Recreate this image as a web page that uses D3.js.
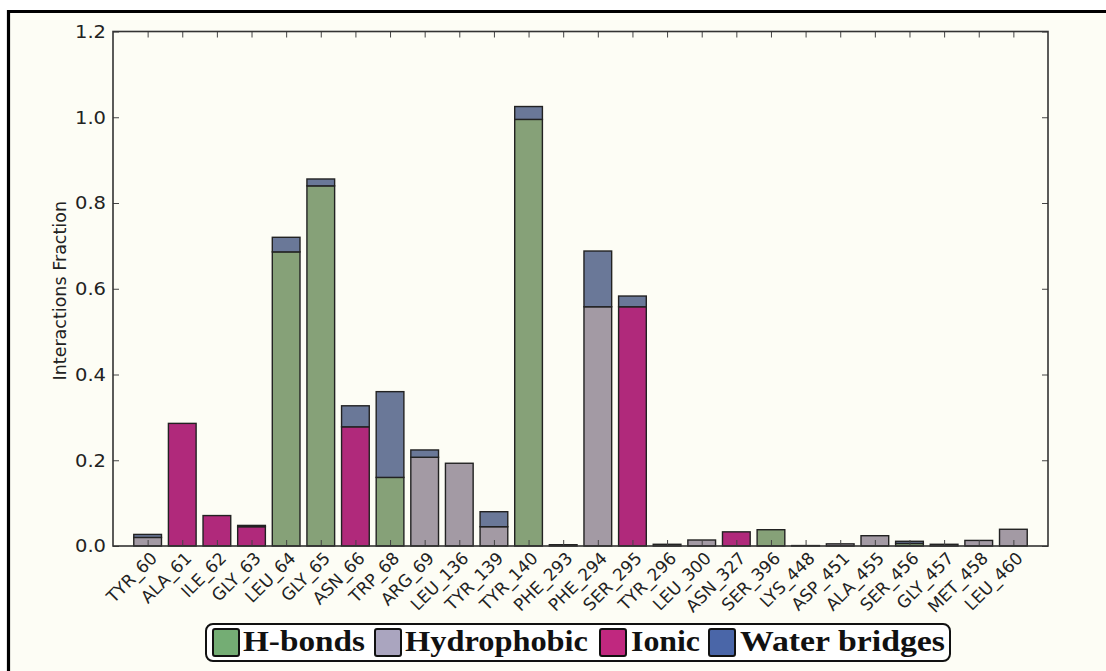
<!DOCTYPE html>
<html>
<head>
<meta charset="utf-8">
<script src="https://cdn.jsdelivr.net/npm/d3@7"></script>
<style>
  html, body { margin: 0; padding: 0; background: #ffffff; }
  svg { display: block; }
</style>
</head>
<body>
<svg id="chart" width="1106" height="671"></svg>
<script>
// Residues contacted during the simulation
const residues = ["TYR_60", "ALA_61", "ILE_62", "GLY_63", "LEU_64", "GLY_65", "ASN_66", "TRP_68",
  "ARG_69", "LEU_136", "TYR_139", "TYR_140", "PHE_293", "PHE_294", "SER_295", "TYR_296",
  "LEU_300", "ASN_327", "SER_396", "LYS_448", "ASP_451", "ALA_455", "SER_456", "GLY_457",
  "MET_458", "LEU_460"];

// Interaction fractions per type (stacked in this order)
const hBonds      = [0, 0, 0, 0, 0.686, 0.840, 0, 0.160, 0, 0, 0, 0.995, 0, 0, 0, 0, 0, 0, 0.038, 0, 0, 0, 0.006, 0, 0, 0];
const hydrophobic = [0.020, 0, 0, 0, 0, 0, 0, 0, 0.207, 0.193, 0.045, 0, 0.003, 0.558, 0, 0.004, 0.014, 0, 0, 0.001, 0.005, 0.024, 0, 0.004, 0.013, 0.039];
const ionic       = [0, 0.286, 0.071, 0.045, 0, 0, 0.278, 0, 0, 0, 0, 0, 0, 0, 0.558, 0, 0, 0.033, 0, 0, 0, 0, 0, 0, 0, 0];
const waterBridges= [0.007, 0, 0, 0.003, 0.034, 0.016, 0.049, 0.200, 0.017, 0, 0.035, 0.030, 0, 0.130, 0.025, 0, 0, 0, 0, 0, 0, 0, 0.005, 0, 0, 0];

const yTicks = [0, 0.2, 0.4, 0.6, 0.8, 1.0, 1.2];
const seriesNames = ["H-bonds", "Hydrophobic", "Ionic", "Water bridges"];

const barColors    = ["#86a178", "#a39aa4", "#b0297b", "#6a7898"];
const legendColors = ["#74ad74", "#aaa5bf", "#c0287f", "#4a66a8"];

const svg = d3.select("#chart");
const W = 1106, H = 671;
const plot = { left: 113, right: 1048, top: 31.5, bottom: 546 };

// Figure background and frame
svg.append("rect").attr("x", 8).attr("y", 11).attr("width", W - 8).attr("height", H - 11)
  .attr("fill", "#fdfdf5");
svg.append("path")
  .attr("d", `M8.5,${H} L8.5,11.5 L${W},11.5`)
  .attr("fill", "none").attr("stroke", "#000").attr("stroke-width", 3.2);

const x = d3.scaleLinear().domain([-1, residues.length]).range([plot.left, plot.right]);
const y = d3.scaleLinear().domain([0, 1.2]).range([plot.bottom, plot.top]);
const barW = 0.8;

// Stack the four interaction types
const rows = residues.map((r, i) => ({
  residue: r, i,
  "H-bonds": hBonds[i], "Hydrophobic": hydrophobic[i], "Ionic": ionic[i], "Water bridges": waterBridges[i]
}));
const stacked = d3.stack().keys(seriesNames)(rows);

svg.append("g").selectAll("g")
  .data(stacked)
  .join("g")
  .attr("fill", (d, k) => barColors[k])
  .selectAll("rect")
  .data(d => d.filter(s => s[1] - s[0] > 0))
  .join("rect")
  .attr("x", s => x(s.data.i - barW / 2))
  .attr("width", x(barW) - x(0))
  .attr("y", s => y(s[1]))
  .attr("height", s => y(s[0]) - y(s[1]))
  .attr("stroke", "#222")
  .attr("stroke-width", 1.4);

// Axes: inward ticks on all four sides
const tickColor = "#444";
const font = "'DejaVu Sans', sans-serif";

const yAxis = svg.append("g").attr("transform", `translate(${plot.left},0)`)
  .call(d3.axisLeft(y).tickValues(yTicks).tickFormat(d3.format(".1f")).tickSize(-6).tickPadding(7));
yAxis.select(".domain").remove();
yAxis.selectAll("line").attr("stroke", tickColor);
yAxis.selectAll("text").attr("font-family", font).attr("font-size", 18.5).attr("fill", "#222")
  .attr("textLength", 31).attr("lengthAdjust", "spacingAndGlyphs");

const yAxisR = svg.append("g").attr("transform", `translate(${plot.right},0)`)
  .call(d3.axisRight(y).tickValues(yTicks).tickFormat("").tickSize(-6));
yAxisR.select(".domain").remove();
yAxisR.selectAll("line").attr("stroke", tickColor);

const idx = d3.range(residues.length);
const xAxis = svg.append("g").attr("transform", `translate(0,${plot.bottom})`)
  .call(d3.axisBottom(x).tickValues(idx).tickFormat("").tickSize(-6));
xAxis.select(".domain").remove();
xAxis.selectAll("line").attr("stroke", tickColor);

const xAxisT = svg.append("g").attr("transform", `translate(0,${plot.top})`)
  .call(d3.axisTop(x).tickValues(idx).tickFormat("").tickSize(-6));
xAxisT.select(".domain").remove();
xAxisT.selectAll("line").attr("stroke", tickColor);

// Rotated residue labels
svg.append("g").selectAll("text")
  .data(residues)
  .join("text")
  .attr("transform", (d, i) => `translate(${x(i) + 2},${plot.bottom + 5}) rotate(-45)`)
  .attr("dy", "0.7em")
  .attr("text-anchor", "end")
  .attr("font-family", font)
  .attr("font-size", 17)
  .attr("fill", "#222")
  .text(d => d);

// Plot frame
svg.append("rect")
  .attr("x", plot.left).attr("y", plot.top)
  .attr("width", plot.right - plot.left).attr("height", plot.bottom - plot.top)
  .attr("fill", "none").attr("stroke", "#333").attr("stroke-width", 1.6);

// Y axis title
svg.append("text")
  .attr("transform", `translate(66,${(plot.top + plot.bottom) / 2 + 2}) rotate(-90)`)
  .attr("text-anchor", "middle")
  .attr("font-family", font)
  .attr("font-size", 17.5)
  .attr("fill", "#222")
  .text("Interactions Fraction");

// Legend
const legend = svg.append("g");
legend.append("rect")
  .attr("x", 206).attr("y", 624).attr("width", 744).attr("height", 37)
  .attr("rx", 7).attr("fill", "#ffffff").attr("stroke", "#111").attr("stroke-width", 2);

const legendLayout = [
  { sw: 213, tx: 243, tw: 122 },
  { sw: 375, tx: 405, tw: 183 },
  { sw: 600, tx: 631, tw: 69 },
  { sw: 709, tx: 740, tw: 205 }
];
seriesNames.forEach((name, k) => {
  const L = legendLayout[k];
  legend.append("rect")
    .attr("x", L.sw).attr("y", 629).attr("width", 26).attr("height", 27)
    .attr("rx", 2).attr("fill", legendColors[k]).attr("stroke", "#111").attr("stroke-width", 2);
  legend.append("text")
    .attr("x", L.tx).attr("y", 651)
    .attr("font-family", "'Liberation Serif', 'DejaVu Serif', serif")
    .attr("font-weight", "bold")
    .attr("font-size", 30)
    .attr("fill", "#111")
    .attr("textLength", L.tw)
    .attr("lengthAdjust", "spacingAndGlyphs")
    .text(name);
});
</script>
</body>
</html>
